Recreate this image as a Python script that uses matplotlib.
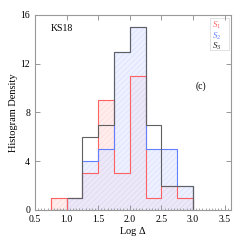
import numpy as np
import matplotlib.pyplot as plt
from matplotlib.ticker import MultipleLocator

plt.rcParams['font.family'] = 'Liberation Serif'
plt.rcParams['mathtext.fontset'] = 'custom'
plt.rcParams['mathtext.rm'] = 'Liberation Serif'
plt.rcParams['mathtext.it'] = 'Liberation Serif:italic'
plt.rcParams['hatch.linewidth'] = 0.3

# bin edges of log Delta
edges = [0.75, 1.0, 1.25, 1.5, 1.75, 2.0, 2.25, 2.5, 2.75, 3.0]
s1 = [1, 1, 3, 9, 3, 11, 1, 2, 1]
s2 = [0, 1, 4, 5, 13, 15, 5, 5, 2]
s3 = [0, 1, 6, 7, 13, 15, 7, 2, 2]

red = '#ff6060'
blue = '#6080ff'
gray = '#606060'

fig = plt.figure(figsize=(2.48, 2.45), dpi=100)
ax = fig.add_axes([0.141, 0.143, 0.79, 0.796])

# filled, hatched areas
ax.stairs(s1, edges, fill=True, facecolor=(1, 0.93, 0.93), edgecolor=(1, 0.8, 0.8), linewidth=0, hatch='//////')
ax.stairs(s2, edges, fill=True, facecolor=(0.88, 0.9, 1, 0.6), edgecolor=(0.78, 0.8, 1, 0.7), linewidth=0, hatch='//////')

# outlines
ax.stairs(s1, edges, baseline=0, color=red, linewidth=0.8)
ax.stairs(s2, edges, baseline=0, color=blue, linewidth=0.8)
ax.stairs(s3, edges, baseline=0, color=gray, linewidth=0.8)
ax.vlines([0.75, 1.0], 0, [1, 1], color=red, linewidth=0.8)
ax.vlines([3.0], 0, [2], color=gray, linewidth=0.8)

ax.set_xlim(0.5, 3.6)
ax.set_ylim(0, 16)
ax.xaxis.set_major_locator(MultipleLocator(0.5))
ax.xaxis.set_minor_locator(MultipleLocator(0.05))
ax.yaxis.set_major_locator(MultipleLocator(4))
ax.tick_params(which='both', direction='in', top=True, right=True, labelsize=7, colors='#888888', labelcolor='black')
ax.tick_params(which='major', length=3.5, width=0.6)
ax.tick_params(which='minor', length=1.5, width=0.5, top=False)
for sp in ax.spines.values():
    sp.set_color('#999999')
    sp.set_linewidth(0.8)

ax.set_xlabel(r'Log $\Delta$', fontsize=7.5, labelpad=1)
ax.set_ylabel('Histogram Density', fontsize=7.5, labelpad=2)

ax.text(0.08, 0.92, 'KS18', transform=ax.transAxes, fontsize=7)
ax.text(0.82, 0.62, '(c)', transform=ax.transAxes, fontsize=7)

labels = [r'$S_1$', r'$S_2$', r'$S_3$']
colors = [red, blue, '#222222']
for i, (lab, c) in enumerate(zip(labels, colors)):
    ax.text(0.905, 0.935 - i * 0.055, lab, transform=ax.transAxes, fontsize=6.5, color=c)
ax.add_patch(plt.Rectangle((0.895, 0.82), 0.095, 0.165, transform=ax.transAxes,
                           fill=False, edgecolor='#dddddd', linewidth=0.6))

fig.savefig('out.png', dpi=100)
